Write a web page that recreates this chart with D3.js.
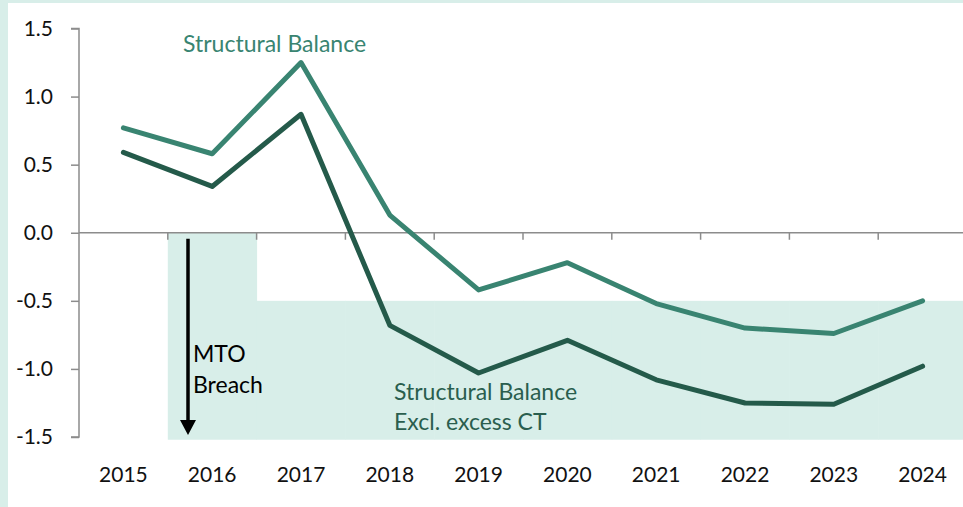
<!DOCTYPE html>
<html>
<head>
<meta charset="utf-8">
<script src="https://cdn.jsdelivr.net/npm/d3@7"></script>
<style>
  body { margin: 0; background: #d8eee9; }
  svg { display: block; }
  text { font-family: Lato, "Noto Sans", sans-serif; }
</style>
</head>
<body>
<div class="chart"></div>
<script>
const years = ["2015", "2016", "2017", "2018", "2019", "2020", "2021", "2022", "2023", "2024"];
const structuralBalance = [0.77, 0.58, 1.25, 0.13, -0.42, -0.22, -0.52, -0.70, -0.74, -0.50];
const exclExcessCT = [0.59, 0.34, 0.87, -0.68, -1.03, -0.79, -1.08, -1.25, -1.26, -0.98];
// MTO breach zone: top edge of the shaded area per year (null = no shading)
const mtoTop = [null, 0, -0.5, -0.5, -0.5, -0.5, -0.5, -0.5, -0.5, -0.5];
const mtoBottom = -1.52;
const yTicks = [1.5, 1.0, 0.5, 0.0, -0.5, -1.0, -1.5];

const w = 963;
const h = 507;

const svg = d3.select('.chart')
    .append('svg')
    .attr('width', w)
    .attr('height', h);

// frame: mint strip top + left, white panel
svg.append('rect')
    .attr('x', 8).attr('y', 3)
    .attr('width', w - 8).attr('height', h - 3)
    .attr('fill', '#ffffff');

const x = d3.scaleBand()
    .domain(years)
    .range([79, 967])
    .padding(0);

const y = d3.scaleLinear()
    .domain([-1.5, 1.5])
    .range([437, 28.5]);

// shaded MTO breach area
svg.selectAll('rect.mto')
    .data(years.map((yr, i) => ({yr, top: mtoTop[i]})).filter(d => d.top !== null))
    .enter()
    .append('rect')
    .attr('class', 'mto')
    .attr('x', d => x(d.yr))
    .attr('width', x.bandwidth() + 0.5)
    .attr('y', d => y(d.top))
    .attr('height', d => y(mtoBottom) - y(d.top))
    .attr('fill', '#d8eee9');

// y axis
const yAxis = svg.append('g')
    .attr('transform', 'translate(79,0)')
    .call(d3.axisLeft(y).tickValues(yTicks).tickSize(8).tickPadding(18)
        .tickFormat(d3.format('.1f')));
yAxis.selectAll('path, line').attr('stroke', '#8c8c8c').attr('stroke-width', 1.5);
yAxis.select('.domain').attr('d', 'M-8,' + y(1.5) + 'H0V' + y(-1.5) + 'H-8');
yAxis.selectAll('text')
    .attr('font-size', 21)
    .attr('fill', '#111')
    .text(d => d3.format('.1f')(d).replace('−', '-'));

// x axis along zero line, ticks at category boundaries
svg.append('line')
    .attr('x1', 79).attr('x2', w)
    .attr('y1', y(0)).attr('y2', y(0))
    .attr('stroke', '#8c8c8c').attr('stroke-width', 1.5);

svg.selectAll('line.xtick')
    .data(years.slice(1))
    .enter()
    .append('line')
    .attr('class', 'xtick')
    .attr('x1', d => x(d)).attr('x2', d => x(d))
    .attr('y1', y(0)).attr('y2', y(0) + 7)
    .attr('stroke', '#8c8c8c').attr('stroke-width', 1.5);

svg.selectAll('text.xlabel')
    .data(years)
    .enter()
    .append('text')
    .attr('class', 'xlabel')
    .attr('x', d => x(d) + x.bandwidth() / 2)
    .attr('y', 482)
    .attr('text-anchor', 'middle')
    .attr('font-size', 21)
    .attr('fill', '#111')
    .text(d => d);

// lines
const line = d3.line()
    .x((d, i) => x(years[i]) + x.bandwidth() / 2)
    .y(d => y(d));

svg.append('path')
    .datum(exclExcessCT)
    .attr('d', line)
    .attr('fill', 'none')
    .attr('stroke', '#245a4a')
    .attr('stroke-width', 5)
    .attr('stroke-linecap', 'round')
    .attr('stroke-linejoin', 'round');

svg.append('path')
    .datum(structuralBalance)
    .attr('d', line)
    .attr('fill', 'none')
    .attr('stroke', '#398471')
    .attr('stroke-width', 5)
    .attr('stroke-linecap', 'round')
    .attr('stroke-linejoin', 'round');

// MTO breach arrow
svg.append('line')
    .attr('x1', 188).attr('x2', 188)
    .attr('y1', y(0) + 6).attr('y2', 422)
    .attr('stroke', '#000')
    .attr('stroke-width', 3.5);

svg.append('path')
    .attr('d', 'M180,420L196,420L188,435Z')
    .attr('fill', '#000');

// labels
svg.append('text')
    .attr('x', 183).attr('y', 51.5)
    .attr('font-size', 23)
    .attr('fill', '#398471')
    .text('Structural Balance');

const ct = svg.append('text')
    .attr('x', 394).attr('y', 400)
    .attr('font-size', 23)
    .attr('fill', '#2a5e4e');
ct.append('tspan').attr('x', 394).text('Structural Balance');
ct.append('tspan').attr('x', 394).attr('dy', 30).text('Excl. excess CT');

const mto = svg.append('text')
    .attr('x', 193).attr('y', 362)
    .attr('font-size', 23)
    .attr('fill', '#000');
mto.append('tspan').attr('x', 193).text('MTO');
mto.append('tspan').attr('x', 193).attr('dy', 30.5).text('Breach');
</script>
</body>
</html>
